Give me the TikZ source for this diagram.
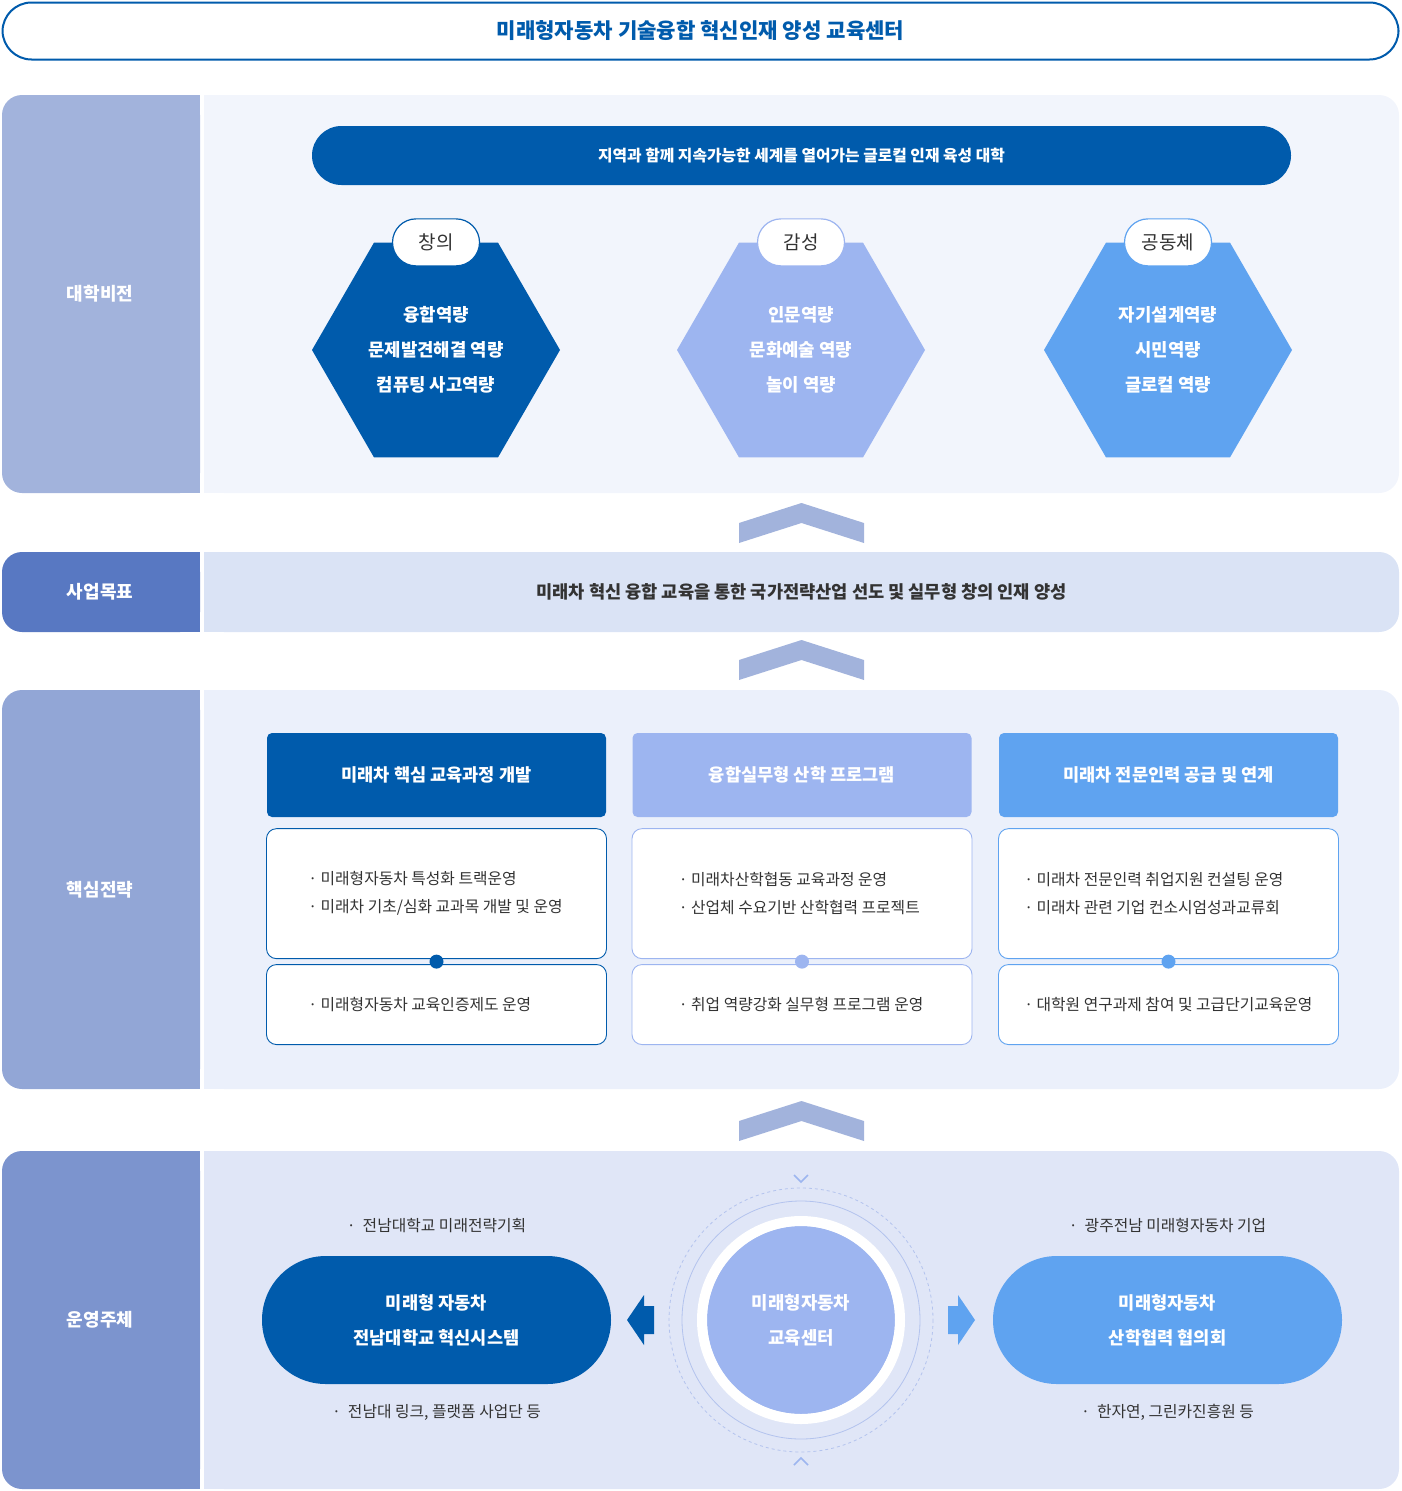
\documentclass[tikz,border=0pt]{standalone}
\usepackage{fontspec}
\setmainfont{Noto Sans CJK KR}
\usetikzlibrary{shapes.geometric,positioning}

\definecolor{deepblue}{HTML}{005BAC}
\definecolor{paleblue}{HTML}{9DB5F0}
\definecolor{skyblue}{HTML}{5FA3F0}
\definecolor{chevblue}{HTML}{A2B3DC}
\definecolor{ringblue}{HTML}{B3C3EE}
\definecolor{textgray}{HTML}{333333}
\definecolor{bandA}{HTML}{A2B3DC}
\definecolor{bandB}{HTML}{5878C2}
\definecolor{bandC}{HTML}{92A6D6}
\definecolor{bandD}{HTML}{7C94CE}
\definecolor{panelA}{HTML}{F2F5FC}
\definecolor{panelB}{HTML}{DAE3F5}
\definecolor{panelC}{HTML}{EBF0FB}
\definecolor{panelD}{HTML}{E0E6F7}

\tikzset{
  bandlabel/.style={text=white,font=\bfseries\fontsize{18}{20}\selectfont},
  hexa/.style={regular polygon,regular polygon sides=6,minimum size=248,inner sep=0,fill=#1,text=white,align=center,font=\bfseries\fontsize{17.8}{35}\selectfont},
  tabpill/.style={draw=#1,line width=1.2,fill=white,rounded corners=23.5,minimum width=87,minimum height=47,inner sep=0,text=textgray,font=\fontsize{19}{20}\selectfont},
  strathead/.style={fill=#1,rounded corners=5,minimum width=339,minimum height=84,inner sep=0,text=white,font=\bfseries\fontsize{17.6}{20}\selectfont},
  card/.style={draw=#1,line width=0.9,fill=white,rounded corners=10,minimum width=340,inner sep=0},
  item/.style={anchor=west,align=left,inner sep=0,text=textgray,font=\fontsize{15.8}{28}\selectfont},
  joint/.style={circle,fill=#1,minimum size=14,inner sep=0},
  pill/.style={fill=#1,rounded corners=63.9,minimum width=349,minimum height=128,inner sep=0,text=white,align=center,font=\bfseries\fontsize{17.6}{35}\selectfont},
  note/.style={inner sep=0,text=textgray,font=\fontsize{15.8}{18}\selectfont},
}

\begin{document}
\begin{tikzpicture}[x=1pt,y=-1pt]
	\useasboundingbox (0,0) rectangle (1401,1491);

	% title
	\node[draw=deepblue,line width=2,fill=white,rounded corners=29,minimum width=1396,minimum height=57,text=deepblue,font=\bfseries\fontsize{21.1}{24}\selectfont] (title) at (700.5,31) {미래형자동차 기술융합 혁신인재 양성 교육센터};

	% rows: band on the left, panel on the right
	\foreach \i/\ya/\yb/\bc/\pc/\lab in {1/95/493/bandA/panelA/대학비전, 2/552/632/bandB/panelB/사업목표, 3/690/1089/bandC/panelC/핵심전략, 4/1151/1489/bandD/panelD/운영주체} {
		\fill[\bc,rounded corners=20] (2,\ya) rectangle (200,\yb);
		\fill[\bc] (100,\ya) rectangle (200,\yb);
		\fill[\pc,rounded corners=20] (204,\ya) rectangle (1399,\yb);
		\fill[\pc] (204,\ya) rectangle (700,\yb);
		\node[bandlabel] (band\i) at (100,{(\ya+\yb)/2}) {\lab};
	}

	% chevrons between rows
	\foreach \y in {503,640,1101}
		\fill[chevblue] (739,\y+20) -- (801.5,\y) -- (864,\y+20) -- (864,\y+40) -- (801.5,\y+20) -- (739,\y+40) -- cycle;

	% vision
	\node[fill=deepblue,rounded corners=29.5,minimum width=979,minimum height=59,inner sep=0,text=white,font=\bfseries\fontsize{15.8}{18}\selectfont] (vision) at (801.5,155.5) {지역과 함께 지속가능한 세계를 열어가는 글로컬 인재 육성 대학};
	\node[hexa=deepblue] (hexA) at (436,350) {융합역량\\문제발견해결 역량\\컴퓨팅 사고역량};
	\node[hexa=paleblue] (hexB) at (801,350) {인문역량\\문화예술 역량\\놀이 역량};
	\node[hexa=skyblue] (hexC) at (1168,350) {자기설계역량\\시민역량\\글로컬 역량};
	\node[tabpill=deepblue] (tabA) at (hexA.north) {창의};
	\node[tabpill=paleblue] (tabB) at (hexB.north) {감성};
	\node[tabpill=skyblue] (tabC) at (hexC.north) {공동체};

	% goal
	\node[text=textgray,font=\bfseries\fontsize{17.6}{20}\selectfont] (goal) at (801.5,592) {미래차 혁신 융합 교육을 통한 국가전략산업 선도 및 실무형 창의 인재 양성};

	% strategies
	\node[strathead=deepblue] (headA) at (436.5,775) {미래차 핵심 교육과정 개발};
	\node[strathead=paleblue] (headB) at (802,775) {융합실무형 산학 프로그램};
	\node[strathead=skyblue] (headC) at (1168.5,775) {미래차 전문인력 공급 및 연계};

	\node[card=deepblue,minimum height=130,below=11pt of headA] (upA) {};
	\node[card=paleblue,minimum height=130,below=11pt of headB] (upB) {};
	\node[card=skyblue,minimum height=130,below=11pt of headC] (upC) {};
	\node[card=deepblue,minimum height=80,below=5pt of upA] (lowA) {};
	\node[card=paleblue,minimum height=80,below=5pt of upB] (lowB) {};
	\node[card=skyblue,minimum height=80,below=5pt of upC] (lowC) {};

	\node[item,right=42pt of upA.west] (itemA1) {· 미래형자동차 특성화 트랙운영\\· 미래차 기초/심화 교과목 개발 및 운영};
	\node[item,right=42pt of lowA.west] (itemA2) {· 미래형자동차 교육인증제도 운영};
	\node[item,right=47pt of upB.west] (itemB1) {· 미래차산학협동 교육과정 운영\\· 산업체 수요기반 산학협력 프로젝트};
	\node[item,right=47pt of lowB.west] (itemB2) {· 취업 역량강화 실무형 프로그램 운영};
	\node[item,right=26pt of upC.west] (itemC1) {· 미래차 전문인력 취업지원 컨설팅 운영\\· 미래차 관련 기업 컨소시엄성과교류회};
	\node[item,right=26pt of lowC.west] (itemC2) {· 대학원 연구과제 참여 및 고급단기교육운영};

	\draw[deepblue,line width=0.9] (upA) -- (lowA) node[joint=deepblue,midway] (jointA) {};
	\draw[paleblue,line width=0.9] (upB) -- (lowB) node[joint=paleblue,midway] (jointB) {};
	\draw[skyblue,line width=0.9] (upC) -- (lowC) node[joint=skyblue,midway] (jointC) {};

	% operation
	\node[circle,fill=paleblue,minimum size=188,inner sep=0,text=white,align=center,font=\bfseries\fontsize{17.8}{35}\selectfont] (hub) at (801,1320) {미래형자동차\\교육센터};
	\draw[white,line width=10] (hub.center) circle (99);
	\draw[ringblue,line width=0.8] (hub.center) circle (119);
	\draw[ringblue,line width=0.8,dashed] (hub.center) circle (132);
	\draw[paleblue,line width=1.5] (794,1175) -- (801,1182) -- (808,1175);
	\draw[paleblue,line width=1.5] (794,1465) -- (801,1458) -- (808,1465);

	\node[pill=deepblue] (uniPill) at (436.5,1320) {미래형 자동차\\전남대학교 혁신시스템};
	\node[pill=skyblue] (coopPill) at (1167.5,1320) {미래형자동차\\산학협력 협의회};
	\fill[deepblue] (627,1320) -- ++(17,-25) -- ++(0,11) -- ++(10,0) -- ++(0,28) -- ++(-10,0) -- ++(0,11) -- cycle;
	\fill[skyblue] (975,1320) -- ++(-17,-25) -- ++(0,11) -- ++(-10,0) -- ++(0,28) -- ++(10,0) -- ++(0,11) -- cycle;

	\node[note,above=23pt of uniPill] (uniTop) {·\ \ 전남대학교 미래전략기획};
	\node[note,below=20pt of uniPill] (uniBot) {·\ \ 전남대 링크, 플랫폼 사업단 등};
	\node[note,above=23pt of coopPill] (coopTop) {·\ \ 광주전남 미래형자동차 기업};
	\node[note,below=20pt of coopPill] (coopBot) {·\ \ 한자연, 그린카진흥원 등};
\end{tikzpicture}
\end{document}
